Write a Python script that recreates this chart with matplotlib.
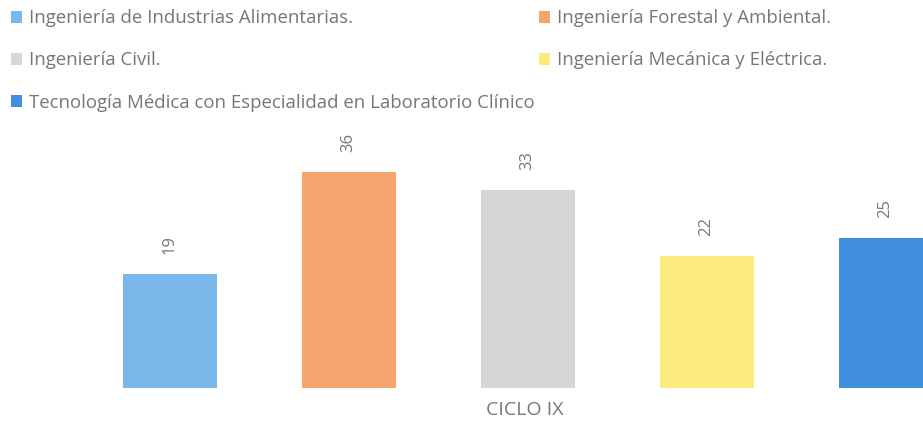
import matplotlib.pyplot as plt

# datos del gráfico
carreras = ['Ingeniería de Industrias Alimentarias.',
            'Ingeniería Forestal y Ambiental.',
            'Ingeniería Civil.',
            'Ingeniería Mecánica y Eléctrica.',
            'Tecnología Médica con Especialidad en Laboratorio Clínico']
alumnos = [19, 36, 33, 22, 25]
colores = ['#7ab8ec', '#f5a46e', '#d6d6d6', '#fbea7c', '#4190e0']
ciclo = 'CICLO IX'

plt.rcParams['font.family'] = ['Open Sans', 'DejaVu Sans']
gris = '#767676'

fig = plt.figure(figsize=(9.23, 4.32), dpi=100)
# el área de barras ocupa todo el ancho; la última barra queda cortada
ax = fig.add_axes([0, 44 / 432, 1, 388 / 432])
posiciones = list(range(len(alumnos)))
barras = ax.bar(posiciones, alumnos, width=0.525, color=colores, label=carreras)
ax.set_xlim(-0.947, 4.209)
ax.set_ylim(0, 64.7)
ax.axis('off')

# etiquetas de valores giradas
for b, v in zip(barras, alumnos):
    ax.annotate(str(v), (b.get_x() + b.get_width() / 2, v),
                xytext=(0, 21.5), textcoords='offset points', rotation=90,
                ha='center', va='center', fontsize=12, color=gris,
                annotation_clip=False)

fig.text(525 / 923, 1 - 410 / 432, ciclo, ha='center', va='center',
         fontsize=14, color=gris)

# leyenda en dos columnas (orden por columnas)
orden = [0, 2, 4, 1, 3]
leg = fig.legend([barras[i] for i in orden], [carreras[i] for i in orden],
                 loc='upper left', bbox_to_anchor=(0.004, 0.996), ncol=2,
                 frameon=False, fontsize=13.4, handlelength=0.6, handleheight=0.6,
                 handletextpad=0.35, labelspacing=1.3, columnspacing=0.25,
                 borderaxespad=0)
for t in leg.get_texts():
    t.set_color(gris)

plt.savefig('out.png', dpi=100)
